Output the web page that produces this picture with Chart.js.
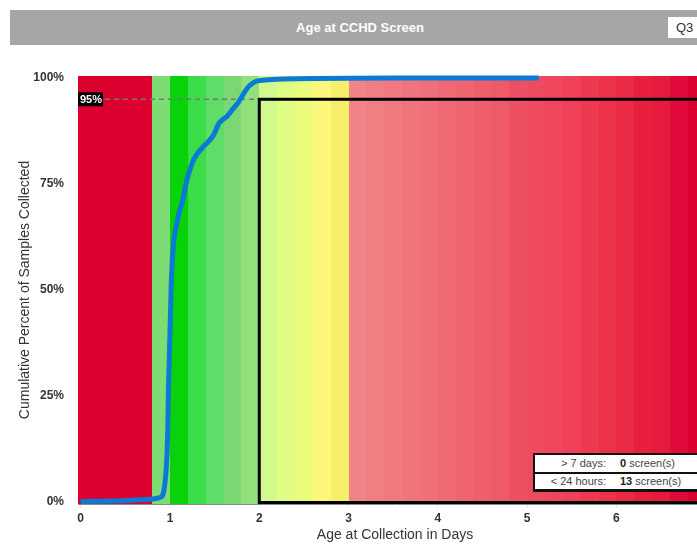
<!DOCTYPE html>
<html>
<head>
<meta charset="utf-8">
<script src="https://cdn.jsdelivr.net/npm/chart.js@4/dist/chart.umd.min.js"></script>
<style>
  html, body { margin: 0; padding: 0; background: #fff; }
  body { width: 697px; height: 544px; overflow: hidden; position: relative; font-family: "Liberation Sans", Arial, sans-serif; }
  #titleBar { position: absolute; left: 10px; top: 10px; width: 700px; height: 35px; background: #a6a6a6;
    color: #fff; font-weight: bold; font-size: 13px; line-height: 35px; text-align: center; }
  #quarter { position: absolute; left: 668px; top: 17px; width: 40px; height: 21px; background: #fff;
    color: #333; font-size: 13px; line-height: 21px; padding-left: 8px; box-sizing: border-box; }
  #wrap { position: absolute; left: 0; top: 0; width: 712px; height: 544px; }
  #summary { position: absolute; left: 533px; top: 453px; width: 180px; background: #111; padding: 2px 0 3px 2px; }
  #summary .row { background: #fff; display: flex; font-size: 11px; color: #444; height: 17px; line-height: 17px; }
  #summary .row + .row { margin-top: 2px; height: 15px; line-height: 15px; }
  #summary .lbl { width: 71px; text-align: right; }
  #summary .val { padding-left: 14px; }
  #summary .val b { color: #222; }
</style>
</head>
<body>
<div id="wrap"><canvas id="ageChart" width="712" height="544"></canvas></div>
<div id="titleBar">Age at CCHD Screen</div>
<div id="quarter">Q3</div>
<div id="summary"></div>

<script>
// cumulative curve
const ageDays = [0, 0.56, 0.92, 0.985, 1.015, 1.045, 1.10, 1.14, 1.19, 1.25, 1.30, 1.36, 1.43, 1.49, 1.55, 1.64, 1.70, 1.77, 1.83, 1.88, 1.94, 2.0, 2.1, 2.27, 2.6, 3.5, 4.5, 5.13];
const cumPct = [0, 0.3, 1.5, 28, 52, 62, 68, 71, 76, 80, 82, 83.5, 85, 86.6, 89.4, 91, 92.6, 94.4, 96.5, 98, 99, 99.4, 99.6, 99.8, 99.9, 100, 100, 100];

const xTickLabels = ['0', '1', '2', '3', '4', '5', '6'];
const yTickValues = [0, 25, 50, 75, 100];
const targetPct = 95;
const targetDay = 2;

// background bands (start day of each band)
const bandStarts = [-0.1, 0.8, 1.0, 1.2, 1.4, 1.6, 1.8, 2.0, 2.2, 2.4, 2.6, 2.8,
  3.0, 3.2, 3.4, 3.6, 3.8, 4.0, 4.2, 4.4, 4.6, 4.8, 5.0, 5.2, 5.4, 5.6, 5.8, 6.0, 6.2, 6.4, 6.6, 6.8, 7.2];
const bandColors = ['#dc002e', '#7ddc72', '#0ad20a', '#3cdb48', '#60dc68', '#7ad874', '#92e07a',
  '#d2f98e', '#defd82', '#ecfd7e', '#fcf87c', '#f6ef6c',
  '#f18488', '#f07f84', '#f07a80', '#ef757c', '#ef7078', '#ef6a74', '#ee6570', '#ee5f6c', '#ed5a68', '#ee5063',
  '#ee4a60', '#ef465e', '#ee4058', '#ee3a50', '#ec3249', '#ea2a44', '#e8203e', '#e51a3c', '#e20a3a', '#dc0030'];

const summaryLabels = ['> 7 days:', '< 24 hours:'];
const summaryCounts = [0, 13];

document.getElementById('summary').innerHTML = summaryLabels.map((l, i) =>
  `<div class="row"><span class="lbl">${l}</span><span class="val"><b>${summaryCounts[i]}</b> screen(s)</span></div>`).join('');

const bandsPlugin = {
  id: 'bands',
  beforeDatasetsDraw(chart) {
    const { ctx, chartArea, scales } = chart;
    ctx.save();
    ctx.beginPath();
    ctx.rect(chartArea.left, chartArea.top, chartArea.right - chartArea.left, chartArea.bottom - chartArea.top);
    ctx.clip();
    for (let i = 0; i < bandColors.length; i++) {
      const x0 = Math.round(scales.x.getPixelForValue(bandStarts[i]));
      const x1 = Math.round(scales.x.getPixelForValue(bandStarts[i + 1]));
      ctx.fillStyle = bandColors[i];
      ctx.fillRect(x0, chartArea.top, x1 - x0, chartArea.bottom - chartArea.top);
    }
    // 95% reference line
    const y95 = scales.y.getPixelForValue(targetPct);
    const x2 = scales.x.getPixelForValue(targetDay);
    ctx.strokeStyle = '#777';
    ctx.lineWidth = 1.5;
    ctx.setLineDash([5, 4]);
    ctx.beginPath();
    ctx.moveTo(chartArea.left, y95);
    ctx.lineTo(x2, y95);
    ctx.stroke();
    ctx.restore();
  },
  afterDatasetsDraw(chart) {
    const { ctx, chartArea, scales } = chart;
    const y95 = scales.y.getPixelForValue(targetPct);
    const x2 = scales.x.getPixelForValue(targetDay);
    ctx.save();
    // target box
    ctx.strokeStyle = '#000';
    ctx.lineWidth = 3;
    ctx.strokeRect(x2, y95, chartArea.right + 20 - x2, chartArea.bottom - 1.5 - y95);
    // 95% tag
    ctx.fillStyle = '#000';
    ctx.fillRect(chartArea.left, y95 - 7, 25, 14);
    ctx.fillStyle = '#fff';
    ctx.font = 'bold 11px "Liberation Sans", Arial, sans-serif';
    ctx.textBaseline = 'middle';
    ctx.fillText(targetPct + '%', chartArea.left + 2, y95 + 0.5);
    ctx.restore();
  }
};

new Chart(document.getElementById('ageChart'), {
  type: 'line',
  data: {
    datasets: [{
      data: ageDays.map((d, i) => ({ x: d, y: cumPct[i] })),
      borderColor: '#0a7ad6',
      borderWidth: 5,
      pointRadius: 0,
      tension: 0.2,
      clip: 4
    }]
  },
  options: {
    responsive: false,
    animation: false,
    layout: { padding: { top: 76, right: 0, left: 0, bottom: 0 } },
    plugins: { legend: { display: false }, tooltip: { enabled: false } },
    scales: {
      x: {
        type: 'linear',
        min: -0.03,
        max: 7.07,
        afterFit(scale) { scale.height = 40; },
        afterBuildTicks(scale) {
          scale.ticks = xTickLabels.map(v => ({ value: Number(v) }));
        },
        ticks: {
          color: '#333',
          font: { family: '"Liberation Sans", Arial', size: 12, weight: 'bold' },
          padding: 3,
          maxRotation: 0,
          callback: (v) => xTickLabels[v]
        },
        grid: { drawOnChartArea: false, drawTicks: true, tickLength: 4, color: '#e0e0e0' },
        border: { display: true, color: '#888', width: 1 },
        title: {
          display: true,
          text: 'Age at Collection in Days',
          color: '#333',
          font: { family: '"Liberation Sans", Arial', size: 14 },
          padding: { top: 0, bottom: 0 }
        }
      },
      y: {
        min: -0.6,
        max: 100.5,
        afterFit(scale) { scale.width = 78; },
        afterBuildTicks(scale) {
          scale.ticks = yTickValues.map(v => ({ value: v }));
        },
        ticks: {
          color: '#333',
          font: { family: '"Liberation Sans", Arial', size: 12, weight: 'bold' },
          padding: 6,
          callback: (v) => v + '%'
        },
        grid: { display: false },
        border: { display: true, color: '#888', width: 1 },
        title: {
          display: true,
          text: 'Cumulative Percent of Samples Collected',
          color: '#333',
          font: { family: '"Liberation Sans", Arial', size: 14 },
          padding: { top: 17, bottom: 0 }
        }
      }
    }
  },
  plugins: [bandsPlugin]
});
</script>
</body>
</html>
